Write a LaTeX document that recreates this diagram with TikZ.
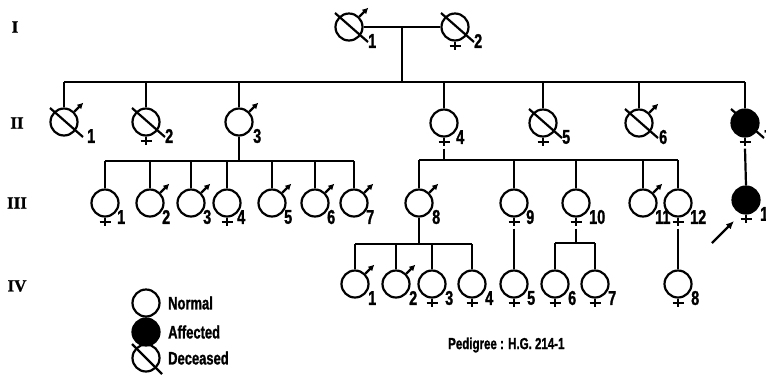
\documentclass[tikz,border=0pt]{standalone}
\usepackage{fontspec}
\newfontfamily\condfont[FakeStretch=0.72,FakeBold=1.2]{Liberation Sans Bold}
\newfontfamily\genfont[FakeBold=1]{Liberation Serif Bold}
\usetikzlibrary{arrows.meta,calc,positioning}

\begin{document}
\begin{tikzpicture}[x=1pt,y=-1pt,
  person/.style={circle, draw, line width=2.2pt, minimum size=27pt, inner sep=0pt},
  affected/.style={person, fill=black},
  lnk/.style={line width=2.2pt},
  sym/.style={line width=2.2pt},
  num/.style={font=\condfont\fontsize{20}{20}\selectfont, inner sep=0pt, anchor=west},
  gen/.style={font=\genfont\fontsize{17}{17}\selectfont, inner sep=0pt},
  legtext/.style={font=\condfont\fontsize{18}{18}\selectfont, inner sep=0pt, anchor=west}]

% page, in pixel units of the reference (y runs down)
\fill[white] (0,0) rectangle (766,384);
\useasboundingbox (0,0) rectangle (766,384);

% ── Generation numbers ───────────────────────────────────────────────
\node[gen] (genI)   at (15,27)  {I};
\node[gen] (genII)  at (17,123) {II};
\node[gen] (genIII) at (17,203) {III};
\node[gen] (genIV)  at (17,286) {IV};

% ── Individuals ──────────────────────────────────────────────────────
\foreach \n/\px/\py in {I1/349/27, I2/455/27,
    II1/64/122, II2/146/122, II3/239/122, II4/444/123, II5/543/123, II6/639/123,
    III1/105/203, III2/150/203, III3/191/203, III4/227/203, III5/272/203,
    III6/315/203, III7/354/203, III8/419/203, III9/514/203, III10/576/203,
    III11/643/203, III12/678/203,
    IV1/355/284, IV2/396/284, IV3/432/284, IV4/472/284, IV5/514/284,
    IV6/555/284, IV7/595/284, IV8/678/284}
  \node[person] (\n) at (\px,\py) {};

\node[affected] (II7)  at (745,123) {};
\node[affected] (III13) at (746,200) {};

% male: arrow
\foreach \n in {I1,II1,II3,II6,III2,III3,III5,III6,III7,III8,III11,IV1,IV2}
  \draw[sym, -{Latex[length=6pt,width=6.5pt]}] (\n.45) -- ++(9,-9);

% female: cross below
\foreach \n in {I2,II2,II4,II5,II7,III1,III4,III9,III10,III12,III13,
    IV3,IV4,IV5,IV6,IV7,IV8}
  \draw[sym] (\n.south) -- ++(0,8) ([shift={(-5.5,4)}]\n.south) -- ++(11,0);

% deceased: slash
\foreach \n in {I1,I2,II1,II2,II5,II6,II7}
  \draw[sym] ([shift={(-14,-14)}]\n.center) -- ([shift={(19,15)}]\n.center);

% numbers
\foreach \n/\t/\dx in {I1/1/19, I2/2/19,
    II1/1/23, II2/2/19, II3/3/14, II4/4/12, II5/5/19, II6/6/20, II7/7/19,
    III1/1/12, III2/2/12, III3/3/12, III4/4/10, III5/5/12, III6/6/12, III7/7/12,
    III8/8/13, III9/9/12, III10/10/13, III11/11/12, III12/12/12, III13/13/14,
    IV1/1/13, IV2/2/13, IV3/3/13, IV4/4/13, IV5/5/13, IV6/6/13, IV7/7/13, IV8/8/13}
  \node[num] (\n-l) at ([shift={(\dx,14)}]\n.center) {\t};

% ── Lines of descent ─────────────────────────────────────────────────
% I
\draw[lnk] (I1) -- (I2);
\coordinate (mateI) at (402,27);
\coordinate (sibII) at (402,82);
\draw[lnk] (mateI) -- (sibII);
\draw[lnk] (II1.north |- sibII) -- (II7.north |- sibII);
\foreach \n in {II1,II2,II3,II4,II5,II6,II7}
  \draw[lnk] (\n.north |- sibII) -- (\n.north);

% II-3
\coordinate (sibIIIa) at (239,161);
\draw[lnk] (II3) -- (sibIIIa);
\draw[lnk] (III1.north |- sibIIIa) -- (III7.north |- sibIIIa);
\foreach \n in {III1,III2,III3,III4,III5,III6,III7}
  \draw[lnk] (\n.north |- sibIIIa) -- (\n.north);

% II-4
\coordinate (sibIIIb) at (444,160);
\draw[lnk] ([yshift=-11pt]II4.south) -- (sibIIIb);
\draw[lnk] (III8.north |- sibIIIb) -- (III12.north |- sibIIIb);
\foreach \n in {III8,III9,III10,III11,III12}
  \draw[lnk] (\n.north |- sibIIIb) -- (\n.north);

% II-7
\draw[lnk] ([yshift=-11pt]II7.south) -- (III13.north);

% III-8
\coordinate (sibIVa) at (419,244);
\draw[lnk] (III8) -- (sibIVa);
\draw[lnk] (IV1.north |- sibIVa) -- (IV4.north |- sibIVa);
\foreach \n in {IV1,IV2,IV3,IV4}
  \draw[lnk] (\n.north |- sibIVa) -- (\n.north);

% III-9, III-10, III-12
\draw[lnk] ([yshift=-11pt]III9.south) -- (IV5.north);
\coordinate (sibIVb) at (576,243);
\draw[lnk] ([yshift=-11pt]III10.south) -- (sibIVb);
\draw[lnk] (IV6.north |- sibIVb) -- (IV7.north |- sibIVb);
\foreach \n in {IV6,IV7}
  \draw[lnk] (\n.north |- sibIVb) -- (\n.north);
\draw[lnk] ([yshift=-11pt]III12.south) -- (IV8.north);

% proband
\coordinate (proA) at (712,243);
\coordinate (proB) at (734,221);
\draw[lnk, -{Latex[length=8pt,width=7pt]}] (proA) -- (proB);

% ── Legend ───────────────────────────────────────────────────────────
\node[person]   (legN) at (146,303) {};
\node[affected] (legA) at (146,332) {};
\node[person]   (legD) at (146,358) {};
\draw[sym] ([shift={(-14,-14)}]legD.center) -- ([shift={(16,16)}]legD.center);
\node[legtext] (legNt) at (168,303) {Normal};
\node[legtext] (legAt) at (168,332) {Affected};
\node[legtext] (legDt) at (168,358) {Deceased};

\node[legtext, font=\condfont\fontsize{16}{16}\selectfont] (ped) at (448,345) {Pedigree : H.G.\ 214-1};

\end{tikzpicture}
\end{document}
